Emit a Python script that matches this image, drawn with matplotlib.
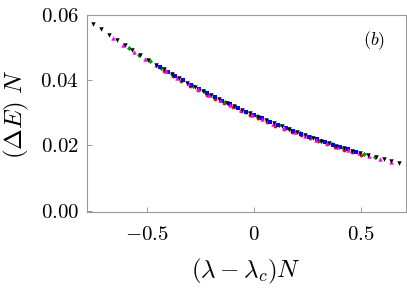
import matplotlib
matplotlib.use("Agg")
import matplotlib.pyplot as plt

plt.rcParams["font.family"] = "serif"
plt.rcParams["font.serif"] = ["cmr10", "DejaVu Serif"]
plt.rcParams["mathtext.fontset"] = "cm"
plt.rcParams["axes.formatter.use_mathtext"] = True

# black down-triangles
x_black = [-0.752, -0.715, -0.679, -0.642, -0.605, -0.569, -0.532, -0.495, -0.458, -0.422,
           -0.385, -0.348, -0.312, -0.275, -0.238, -0.202, -0.165, -0.128, -0.091, -0.055,
           -0.018, 0.019, 0.055, 0.092, 0.129, 0.166, 0.202, 0.239, 0.276, 0.312,
           0.349, 0.386, 0.422, 0.459, 0.496, 0.533, 0.569, 0.606, 0.643, 0.679]
y_black = [0.05730, 0.05559, 0.05396, 0.05232, 0.05072, 0.04919, 0.04767, 0.04617, 0.04471, 0.04331,
           0.04192, 0.04055, 0.03926, 0.03796, 0.03669, 0.03549, 0.03429, 0.03312, 0.03198, 0.03090,
           0.02981, 0.02876, 0.02777, 0.02678, 0.02581, 0.02487, 0.02399, 0.02310, 0.02224, 0.02143,
           0.02062, 0.01984, 0.01910, 0.01837, 0.01765, 0.01696, 0.01631, 0.01567, 0.01504, 0.01446]

# magenta up-triangles
x_mag = [-0.66, -0.61, -0.56, -0.51, -0.46, -0.41, -0.36, -0.31, -0.26, -0.21,
         -0.16, -0.11, -0.06, -0.01, 0.04, 0.09, 0.14, 0.19, 0.24, 0.29,
         0.34, 0.39, 0.44, 0.49, 0.54, 0.59, 0.64]
y_mag = [0.05292, 0.05074, 0.04862, 0.04657, 0.04458, 0.04265, 0.04079, 0.03899, 0.03724, 0.03555,
         0.03393, 0.03236, 0.03084, 0.02939, 0.02798, 0.02663, 0.02533, 0.02408, 0.02288, 0.02172,
         0.02062, 0.01956, 0.01854, 0.01757, 0.01664, 0.01574, 0.01489]

# green
x_green = [-0.585, -0.535, -0.485, -0.435, -0.385, -0.335, -0.285, -0.235, -0.185, -0.135,
           -0.085, -0.035, 0.015, 0.065, 0.115, 0.165, 0.215, 0.265, 0.315, 0.365,
           0.415, 0.465, 0.515, 0.565]
y_green = [0.04988, 0.04780, 0.04578, 0.04382, 0.04192, 0.04009, 0.03832, 0.03660, 0.03494, 0.03335,
           0.03180, 0.03032, 0.02889, 0.02751, 0.02618, 0.02491, 0.02368, 0.02250, 0.02137, 0.02029,
           0.01925, 0.01826, 0.01731, 0.01639]

# blue
x_blue = [-0.440, -0.404, -0.367, -0.330, -0.294, -0.257, -0.220, -0.184, -0.147, -0.110,
          -0.073, -0.037, 0.000, 0.037, 0.074, 0.111, 0.148, 0.184, 0.221, 0.258,
          0.294, 0.331, 0.368, 0.404, 0.441, 0.478]
y_blue = [0.04401, 0.04262, 0.04124, 0.03991, 0.03861, 0.03733, 0.03609, 0.03489, 0.03371, 0.03255,
          0.03144, 0.03036, 0.02929, 0.02827, 0.02728, 0.02630, 0.02534, 0.02443, 0.02355, 0.02267,
          0.02184, 0.02103, 0.02023, 0.01947, 0.01874, 0.01801]

# red
x_red = [-0.42, -0.38, -0.34, -0.30, -0.26, -0.22, -0.18, -0.14, -0.10, -0.06,
         -0.02, 0.02, 0.06, 0.10, 0.14, 0.18, 0.22, 0.26, 0.30, 0.34,
         0.38, 0.42, 0.46, 0.50]
y_red = [0.04274, 0.04123, 0.03977, 0.03834, 0.03694, 0.03559, 0.03428, 0.03301, 0.03176, 0.03054,
         0.02938, 0.02825, 0.02714, 0.02607, 0.02503, 0.02403, 0.02306, 0.02212, 0.02120, 0.02032,
         0.01947, 0.01865, 0.01786, 0.01709]

x_ticks = [-0.5, 0, 0.5]
x_ticklabels = [r"$-0.5$", r"$0$", r"$0.5$"]
y_ticks = [0.00, 0.02, 0.04, 0.06]
y_ticklabels = [r"$0.00$", r"$0.02$", r"$0.04$", r"$0.06$"]

fig = plt.figure(figsize=(4.07, 2.93), dpi=100)
ax = fig.add_axes([0.214, 0.276, 0.783, 0.673])

ax.plot(x_red, y_red, ls="none", marker="o", ms=2.8, color="#ff0000", mew=0)
ax.plot(x_green, y_green, ls="none", marker="D", ms=2.6, color="#00a000", mew=0)
ax.plot(x_blue, y_blue, ls="none", marker="s", ms=2.7, color="#0000ff", mew=0)
ax.plot(x_mag, y_mag, ls="none", marker="^", ms=3.2, color="#ff00ff", mew=0)
ax.plot(x_black, y_black, ls="none", marker="v", ms=3.2, color="black", mew=0)

ax.set_xlim(-0.78, 0.71)
ax.set_ylim(-0.0005, 0.06)
ax.set_xticks(x_ticks)
ax.set_xticklabels(x_ticklabels)
ax.set_yticks(y_ticks)
ax.set_yticklabels(y_ticklabels)
ax.tick_params(labelsize=15, length=3.5, width=0.6, color="#888888", direction="in")
ax.tick_params(axis="x", pad=10)
ax.tick_params(axis="y", pad=6)
for s in ax.spines.values():
    s.set_color("#999999")
    s.set_linewidth(0.8)

ax.set_xlabel(r"$(\lambda - \lambda_c)N$", fontsize=18, labelpad=9)
ax.set_ylabel(r"$(\Delta E)\ N$", fontsize=18, labelpad=7)
ax.text(0.90, 0.87, r"$(b)$", transform=ax.transAxes, fontsize=13, ha="center", va="center")

fig.savefig("out.png", dpi=100)
